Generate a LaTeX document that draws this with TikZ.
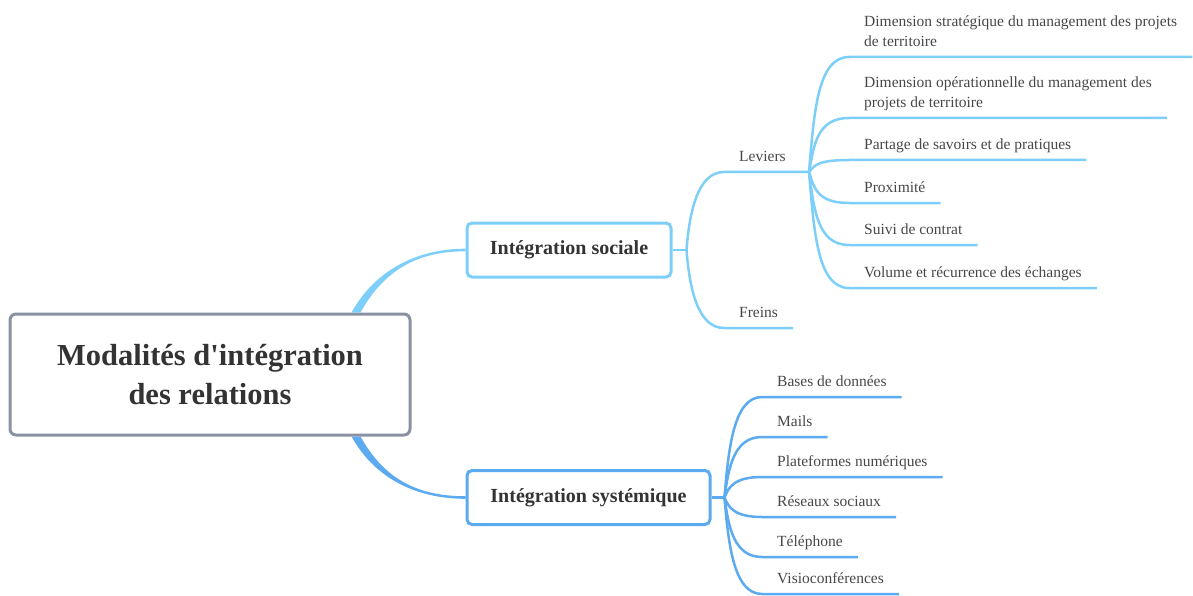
\documentclass[tikz,border=0pt]{standalone}
\usepackage{fontspec}
\setmainfont{Liberation Serif}
\usetikzlibrary{calc}
\definecolor{rootline}{RGB}{138,146,162}
\definecolor{socblue}{RGB}{125,207,250}
\definecolor{sysblue}{RGB}{92,170,240}
\definecolor{txt}{RGB}{51,51,51}
\newcommand{\apos}{\XeTeXglyph\XeTeXcharglyph"0027\relax}
\tikzset{
  rootbox/.style={draw=rootline, line width=3pt, rounded corners=6pt, fill=white, align=center,
    text=txt, font=\fontsize{30.5}{39}\selectfont\bfseries, minimum width=400pt, minimum height=121pt},
  branchbox/.style={draw=#1, line width=3pt, rounded corners=5pt, fill=white, text=txt,
    font=\fontsize{20}{24}\selectfont\bfseries, minimum height=54pt},
  leaf/.style={anchor=south west, align=left, inner xsep=15pt, inner ysep=6pt, text depth=4pt,
    text=txt!90, font=\fontsize{15.5}{20}\selectfont},
  soc/.style={draw=socblue, line width=2.5pt},
  sys/.style={draw=sysblue, line width=2.5pt},
}
\begin{document}
\begin{tikzpicture}[x=1pt,y=-1pt]
\useasboundingbox (0,0) rectangle (1193,596);
% central topic and main branches
\node[rootbox] (root) at (210,374.5) {Modalités d\apos intégration\\des relations};
\node[branchbox=socblue, minimum width=204pt] (soc) at (569,250) {Intégration sociale};
\node[branchbox=sysblue, minimum width=243pt] (sys) at (588.5,497.5) {Intégration systémique};
\fill[socblue] ([xshift=-60pt]root.north east) .. controls +(25,-45) and +(-45,0) .. ([yshift=1.3pt]soc.west)
  -- ([yshift=-1.3pt]soc.west) .. controls +(-45,0) and +(25,-45) .. ([xshift=-51pt]root.north east) -- cycle;
\fill[sysblue] ([xshift=-60pt]root.south east) .. controls +(25,45) and +(-45,0) .. ([yshift=-1.3pt]sys.west)
  -- ([yshift=1.3pt]sys.west) .. controls +(-45,0) and +(25,45) .. ([xshift=-51pt]root.south east) -- cycle;
% Integration sociale
\coordinate (socfork) at ([xshift=14pt]soc.east);
\node[leaf] (lev) at (724,172) {Leviers};
\node[leaf] (frein) at (724,328) {Freins};
\coordinate (levfork) at (809,172);
\draw[soc] (soc.east) -- (socfork);
\draw[soc] (socfork) .. controls ($(socfork)!0.5!(socfork |- lev.south west)+(3,0)$) and +(-26,0) .. (lev.south west) -- (levfork);
\draw[soc] (socfork) .. controls ($(socfork)!0.5!(socfork |- frein.south west)+(3,0)$) and +(-26,0) .. (frein.south west) -- (frein.south east);
\node[leaf] (d1) at (849,57) {Dimension stratégique du management des projets\\de territoire};
\node[leaf] (d2) at (849,118) {Dimension opérationnelle du management des\\projets de territoire};
\node[leaf] (d3) at (849,160) {Partage de savoirs et de pratiques};
\node[leaf] (d4) at (849,203) {Proximité};
\node[leaf] (d5) at (849,245) {Suivi de contrat};
\node[leaf] (d6) at (849,288) {Volume et récurrence des échanges};
\foreach \n in {d1,d2,d3,d4,d5,d6}
  \draw[soc] (levfork) .. controls ($(levfork)!0.5!(levfork |- \n.south west)+(5,0)$) and +(-32,0) .. (\n.south west) -- (\n.south east);
% Integration systemique
\coordinate (sysfork) at ([xshift=13pt]sys.east);
\draw[sys] (sys.east) -- (sysfork);
\node[leaf] (b1) at (762,397) {Bases de données};
\node[leaf] (b2) at (762,437) {Mails};
\node[leaf] (b3) at (762,477) {Plateformes numériques};
\node[leaf] (b4) at (762,517) {Réseaux sociaux};
\node[leaf] (b5) at (762,557) {Téléphone};
\node[leaf] (b6) at (762,594) {Visioconférences};
\foreach \n in {b1,b2,b3,b4,b5,b6}
  \draw[sys] (sysfork) .. controls ($(sysfork)!0.5!(sysfork |- \n.south west)+(4,0)$) and +(-28,0) .. (\n.south west) -- (\n.south east);
\end{tikzpicture}
\end{document}
